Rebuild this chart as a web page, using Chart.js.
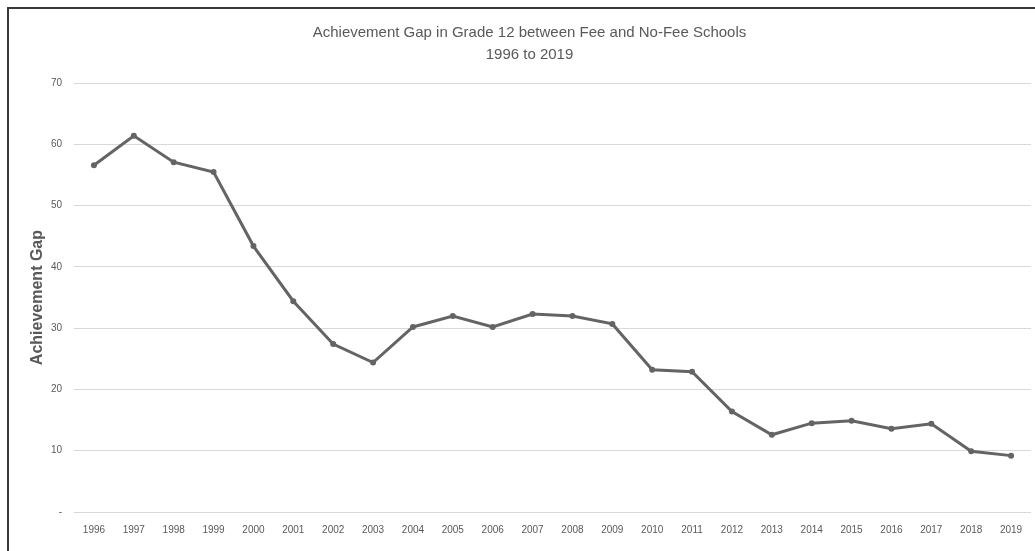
<!DOCTYPE html>
<html>
<head>
<meta charset="utf-8">
<script src="https://cdn.jsdelivr.net/npm/chart.js@4/dist/chart.umd.min.js"></script>
<style>
  html, body { margin: 0; padding: 0; background: #fff; overflow: hidden; }
  #frame { position: absolute; left: 7px; top: 7px; width: 1100px; height: 600px;
           border-top: 2px solid #3a3a3a; border-left: 2px solid #3a3a3a; }
  #wrap { position: absolute; left: 0; top: 0; width: 1035px; height: 551px; }
</style>
</head>
<body>
<div id="frame"></div>
<div id="wrap"><canvas id="chart"></canvas></div>
<script>
const years = ['1996', '1997', '1998', '1999', '2000', '2001', '2002', '2003', '2004', '2005', '2006', '2007',
  '2008', '2009', '2010', '2011', '2012', '2013', '2014', '2015', '2016', '2017', '2018', '2019'];
const gap = [56.6, 61.4, 57.1, 55.5, 43.4, 34.4, 27.4, 24.4, 30.2, 32.0, 30.2, 32.3,
  32.0, 30.7, 23.2, 22.9, 16.4, 12.6, 14.5, 14.9, 13.6, 14.4, 9.9, 9.2];
const titleLines = ['Achievement Gap in Grade 12 between Fee and No-Fee Schools', '1996 to 2019'];
const yTitle = 'Achievement Gap';

const grey = '#595959';
const ctx = document.getElementById('chart');

new Chart(ctx, {
  type: 'line',
  data: {
    labels: years,
    datasets: [{
      label: yTitle,
      data: gap,
      borderColor: '#646464',
      backgroundColor: '#646464',
      borderWidth: 3,
      pointRadius: 3,
      pointBackgroundColor: '#646464',
      pointBorderWidth: 0,
      tension: 0,
      fill: false
    }]
  },
  options: {
    responsive: true,
    maintainAspectRatio: false,
    animation: false,
    layout: { padding: { left: 28, right: 4, top: 8, bottom: 3 } },
    plugins: {
      legend: { display: false },
      tooltip: { enabled: false },
      title: {
        display: true,
        text: titleLines,
        color: grey,
        font: { family: 'Liberation Sans', size: 15, weight: 'normal', lineHeight: 1.47 },
        padding: { top: 14, bottom: 17 }
      }
    },
    scales: {
      x: {
        offset: true,
        grid: { display: false, drawTicks: false },
        border: { display: false },
        ticks: {
          color: grey,
          padding: 12,
          maxRotation: 0,
          autoSkip: false,
          font: { family: 'Liberation Sans', size: 10 }
        }
      },
      y: {
        min: 0,
        max: 70,
        afterFit: scale => { scale.width = 46; },
        grid: { color: '#d9d9d9', lineWidth: 1, drawTicks: false },
        border: { display: false },
        ticks: {
          stepSize: 10,
          color: grey,
          padding: 12,
          font: { family: 'Liberation Sans', size: 10 },
          callback: v => v === 0 ? '-' : v
        },
        title: {
          display: true,
          text: yTitle,
          color: grey,
          padding: 0,
          font: { family: 'Liberation Sans', size: 16, weight: 'bold' }
        }
      }
    }
  }
});
</script>
</body>
</html>
